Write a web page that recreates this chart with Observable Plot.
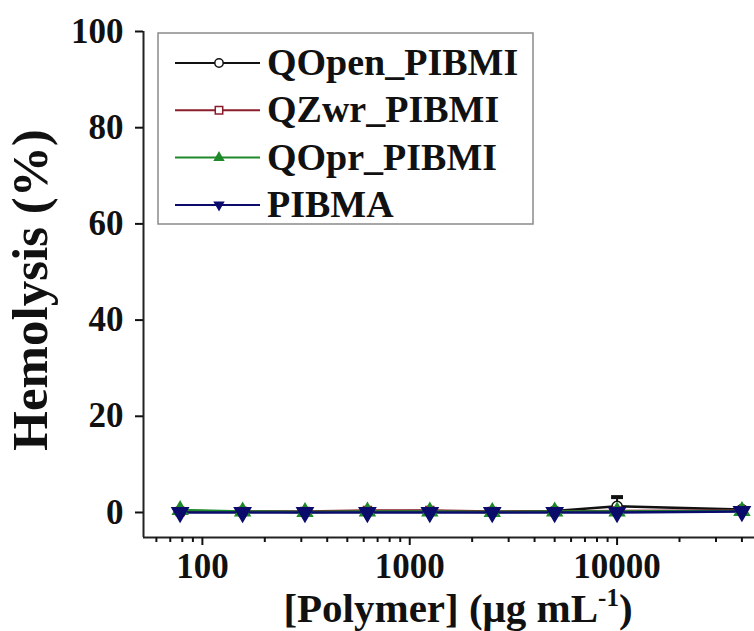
<!DOCTYPE html>
<html>
<head>
<meta charset="utf-8">
<script src="https://cdn.jsdelivr.net/npm/d3@7"></script>
<script src="https://cdn.jsdelivr.net/npm/@observablehq/plot@0.6"></script>
<style>
  html, body { margin: 0; padding: 0; background: #fff; }
  #chart { width: 754px; height: 631px; overflow: hidden; }
</style>
</head>
<body>
<div id="chart"></div>
<script>
// ---- data ----
const concentrations = [78.1, 156.3, 312.5, 625, 1250, 2500, 5000, 10000, 40000];
const seriesNames = ["QOpen_PIBMI", "QZwr_PIBMI", "QOpr_PIBMI", "PIBMA"];
const qopenValues = [0.3, 0.2, 0.1, 0.2, 0.3, 0.1, 0.3, 1.3, 0.6];
const qopenErrors = [0.2, 0.1, 0.1, 0.1, 0.2, 0.1, 0.2, 1.9, 0.3];
const qzwrValues  = [0.2, 0.2, 0.2, 0.4, 0.4, 0.2, 0.2, 0.3, 0.4];
const qoprValues  = [0.5, 0.2, 0.1, 0.2, 0.2, 0.1, 0.2, 0.2, 0.3];
const pibmaValues = [0.0, 0.0, 0.0, 0.0, 0.0, 0.0, 0.0, 0.0, 0.2];
const yTicks = [0, 20, 40, 60, 80, 100];
const xMajorTicks = [100, 1000, 10000];
const xMinorTicks = [60, 70, 80, 90, 200, 300, 400, 500, 600, 700, 800, 900,
                     2000, 3000, 4000, 5000, 6000, 7000, 8000, 9000, 20000, 30000, 40000];
const xDomain = [52, 46000];
const yDomain = [-5.2, 100];
const xTitle = "[Polymer] (\u03bcg mL";
const yTitle = "Hemolysis (%)";

// ---- styles per series ----
const styles = {
  "QOpen_PIBMI": {color: "#111111", symbol: "circle", fill: "#ffffff", r: 5, rotate: 0},
  "QZwr_PIBMI":  {color: "#8a1c2c", symbol: "square", fill: "#ffffff", r: 4.5, rotate: 0},
  "QOpr_PIBMI":  {color: "#1f8a2a", symbol: "triangle", fill: "#1f8a2a", r: 5.5, rotate: 0},
  "PIBMA":       {color: "#0b0b6b", symbol: "triangle", fill: "#0b0b6b", r: 6, rotate: 180}
};
const valueArrays = [qopenValues, qzwrValues, qoprValues, pibmaValues];

const rows = [];
seriesNames.forEach((name, i) => {
  concentrations.forEach((c, j) => rows.push({series: name, conc: c, value: valueArrays[i][j]}));
});
const errRows = concentrations.map((c, j) => ({conc: c, value: qopenValues[j], hi: qopenValues[j] + qopenErrors[j]}));

const marks = [];
// error bars (upper) for QOpen
marks.push(Plot.link(errRows, {x1: "conc", x2: "conc", y1: "value", y2: "hi",
  stroke: styles["QOpen_PIBMI"].color, strokeWidth: 2, markerEnd: "tick"}));
seriesNames.forEach(name => {
  const s = styles[name];
  const d = rows.filter(r => r.series === name);
  marks.push(Plot.line(d, {x: "conc", y: "value", stroke: s.color, strokeWidth: 2.5}));
});
seriesNames.forEach(name => {
  const s = styles[name];
  const d = rows.filter(r => r.series === name);
  marks.push(Plot.dot(d, {x: "conc", y: "value", symbol: () => s.symbol, r: s.r,
    rotate: s.rotate, fill: s.fill, stroke: s.color, strokeWidth: 1.5}));
});

const axisFont = {fontSize: 35, fontFamily: "'Liberation Serif', 'Times New Roman', serif", fontWeight: "bold"};
marks.push(
  Plot.ruleX([xDomain[0]], {stroke: "#222", strokeWidth: 2}),
  Plot.ruleY([yDomain[0]], {stroke: "#222", strokeWidth: 2}),
  Plot.axisY(yTicks, {anchor: "left", tickSize: 8, tickPadding: 12, strokeWidth: 2, label: null, ...axisFont, tickFormat: d => String(d)}),
  Plot.axisX(xMajorTicks, {anchor: "bottom", tickSize: 8, tickPadding: 8, strokeWidth: 2, label: null, ...axisFont, tickFormat: d => String(d)}),
  Plot.axisX(xMinorTicks, {anchor: "bottom", tickSize: 5, strokeWidth: 2, label: null, tickFormat: () => ""})
);

const svg = Plot.plot({
  width: 754,
  height: 631,
  marginLeft: 143,
  marginRight: 0,
  marginTop: 31,
  marginBottom: 94,
  style: {background: "#fff", color: "#111", fontFamily: "'Liberation Serif', serif", overflow: "hidden"},
  x: {type: "log", domain: xDomain},
  y: {domain: yDomain},
  marks
});

const root = d3.select(svg);
const serif = "'Liberation Serif', 'Times New Roman', serif";

// axis titles
root.append("text")
  .attr("transform", "translate(47,290) rotate(-90)")
  .attr("text-anchor", "middle")
  .attr("font-family", serif).attr("font-weight", "bold").attr("font-size", 51)
  .attr("fill", "#111")
  .text(yTitle);

const xt = root.append("text")
  .attr("x", 458).attr("y", 622)
  .attr("text-anchor", "middle")
  .attr("font-family", serif).attr("font-weight", "bold").attr("font-size", 41)
  .attr("fill", "#111");
xt.append("tspan").text(xTitle);
xt.append("tspan").attr("font-size", 25).attr("dy", -16).text("-1");
xt.append("tspan").attr("font-size", 41).attr("dy", 16).text(")");

// legend
const lg = root.append("g");
lg.append("rect").attr("x", 158).attr("y", 33).attr("width", 375).attr("height", 191)
  .attr("fill", "#fff").attr("stroke", "#8a8a8a").attr("stroke-width", 1.5);
const symbolMap = {circle: d3.symbolCircle, square: d3.symbolSquare, triangle: d3.symbolTriangle2};
seriesNames.forEach((name, i) => {
  const s = styles[name];
  const cy = 63 + i * 47.3;
  lg.append("line").attr("x1", 175).attr("x2", 260).attr("y1", cy).attr("y2", cy)
    .attr("stroke", s.color).attr("stroke-width", 2);
  lg.append("path")
    .attr("d", d3.symbol(symbolMap[s.symbol], Math.PI * 4.2 * 4.2)())
    .attr("transform", `translate(219,${cy}) rotate(${s.rotate})`)
    .attr("fill", s.fill).attr("stroke", s.color).attr("stroke-width", 1.5);
  lg.append("text").attr("x", 267).attr("y", cy + 12)
    .attr("text-anchor", "start")
    .attr("font-family", serif).attr("font-weight", "bold").attr("font-size", 38)
    .attr("fill", "#111").text(name);
});

document.getElementById("chart").appendChild(svg);
</script>
</body>
</html>
